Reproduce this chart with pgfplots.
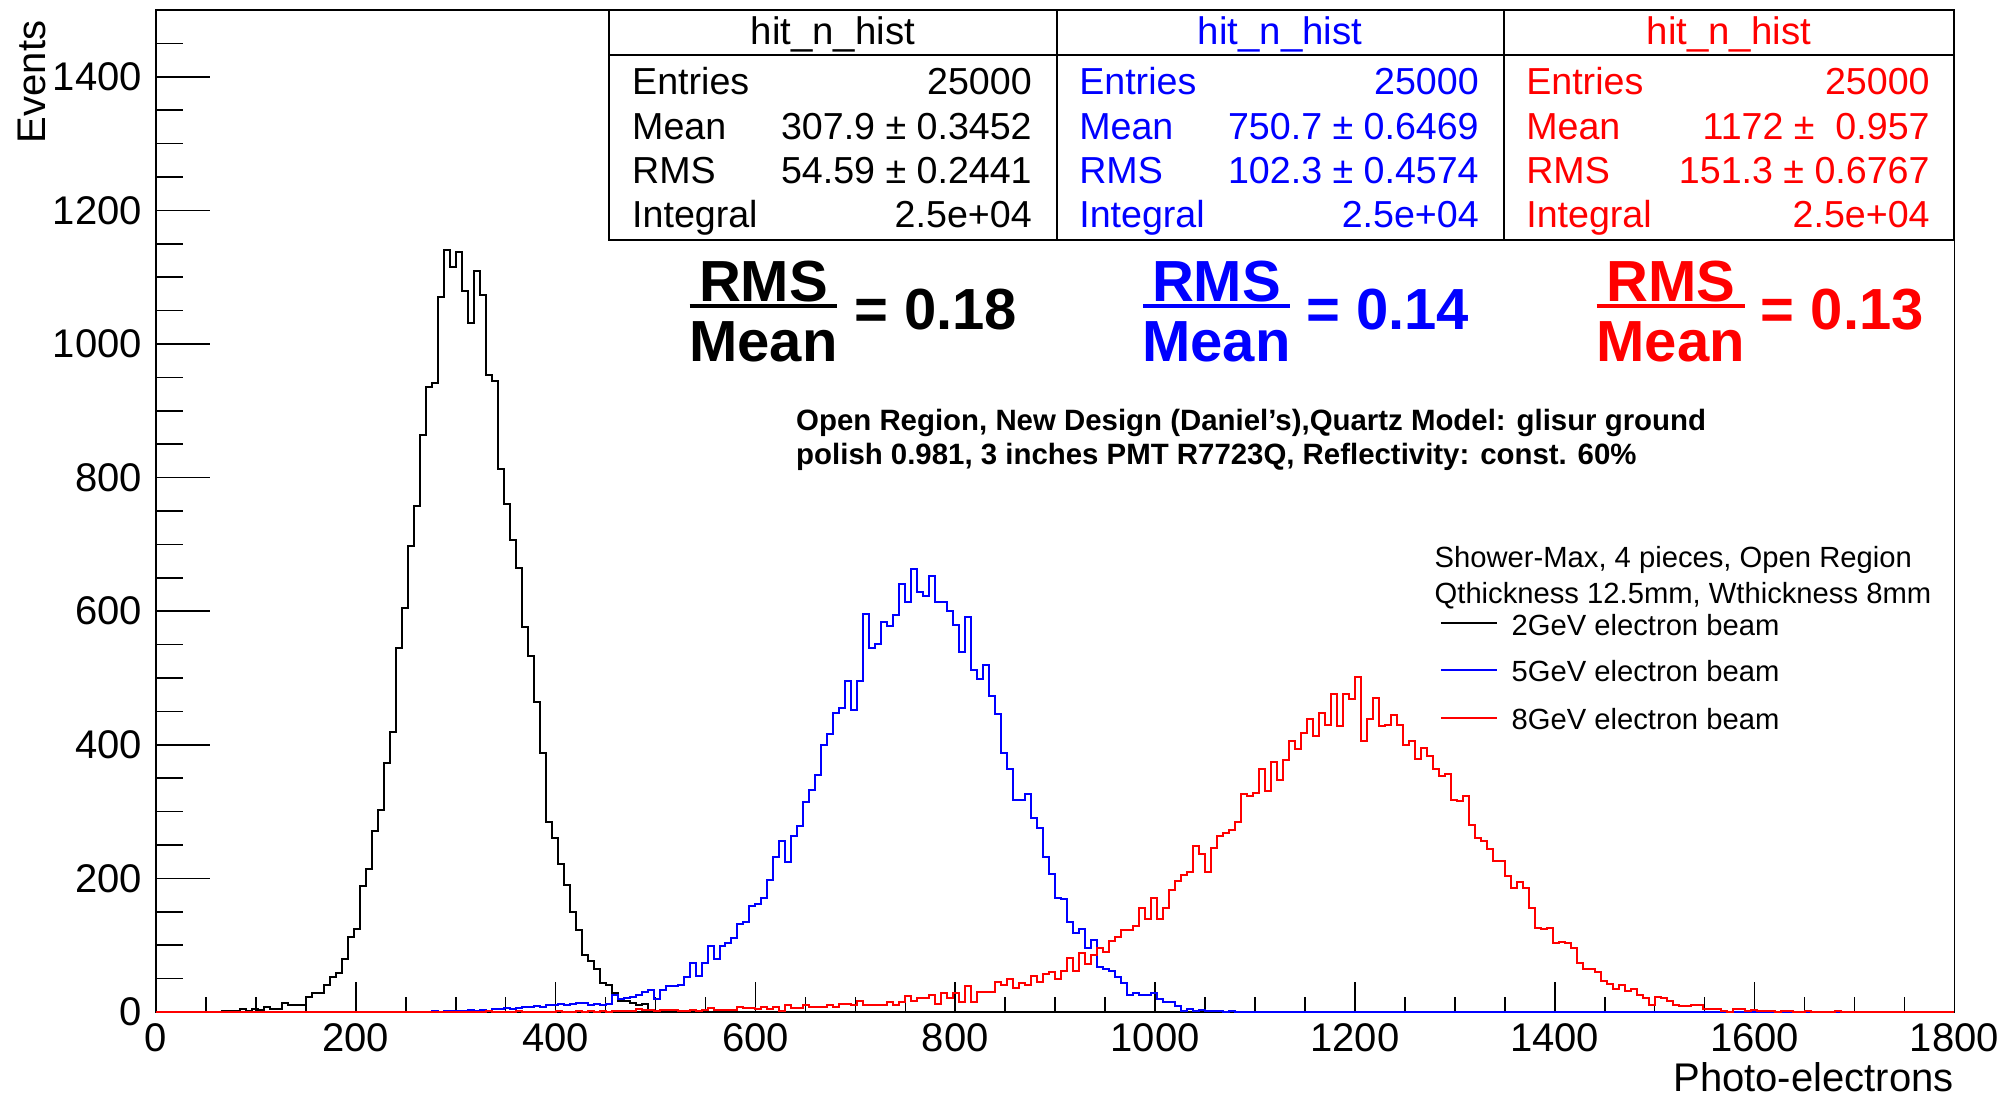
\documentclass[border=0pt]{standalone}
\usepackage{pgfplots}
\pgfplotsset{compat=1.18}
\usepackage{fontspec}
\setmainfont{Liberation Sans}
\setsansfont{Liberation Sans}
\definecolor{rblue}{RGB}{0,0,255}
\definecolor{rred}{RGB}{255,0,0}
\newcommand\fs[1]{\fontsize{#1}{#1}\selectfont}

% stats box: left, right, centre, colour, mean, rms
\newcommand\statbox[6]{%
  \draw[black, line width=0.5pt, fill=white] (axis cs:#1,1155.4) rectangle (axis cs:#2,1500);
  \draw[black, line width=0.5pt] (axis cs:#1,1432.6) -- (axis cs:#2,1432.6);
  \node[text=#4, anchor=base, inner sep=0pt, font=\fs{9.6}] at (axis cs:#3,1448) {hit\_n\_hist};
  \node[text=#4, anchor=base west, inner sep=0pt, font=\fs{9.4}, xshift=5.5pt] at (axis cs:#1,1373.5) {Entries};
  \node[text=#4, anchor=base west, inner sep=0pt, font=\fs{9.4}, xshift=5.5pt] at (axis cs:#1,1306) {Mean};
  \node[text=#4, anchor=base west, inner sep=0pt, font=\fs{9.4}, xshift=5.5pt] at (axis cs:#1,1240.5) {RMS};
  \node[text=#4, anchor=base west, inner sep=0pt, font=\fs{9.4}, xshift=5.5pt] at (axis cs:#1,1175) {Integral};
  \node[text=#4, anchor=base east, inner sep=0pt, font=\fs{9.4}, xshift=-6pt] at (axis cs:#2,1373.5) {25000};
  \node[text=#4, anchor=base east, inner sep=0pt, font=\fs{9.4}, xshift=-6pt] at (axis cs:#2,1306) {#5};
  \node[text=#4, anchor=base east, inner sep=0pt, font=\fs{9.4}, xshift=-6pt] at (axis cs:#2,1240.5) {#6};
  \node[text=#4, anchor=base east, inner sep=0pt, font=\fs{9.4}, xshift=-6pt] at (axis cs:#2,1175) {2.5e+04};
}
% RMS/Mean ratio: colour, centre, bar left, bar right, x of "=", value
\newcommand\ratio[6]{%
  \node[text=#1, anchor=base, inner sep=0pt, font=\bfseries\fs{14.5}] at (axis cs:#2,1063.6) {RMS};
  \draw[#1, line width=1pt] (axis cs:#3,1056.8) -- (axis cs:#4,1056.8);
  \node[text=#1, anchor=base, inner sep=0pt, font=\bfseries\fs{14.5}] at (axis cs:#2,973.8) {Mean};
  \node[text=#1, anchor=base west, inner sep=0pt, font=\bfseries\fs{14.5}] at (axis cs:#5,1021.6) {= #6};
}

\begin{document}
\begin{tikzpicture}
\pgfplotsset{
  rootframe/.style={
    scale only axis, width=449.6pt, height=250.5pt,
    xmin=0, xmax=1800, ymin=0, ymax=1500,
    at={(0,0)}, anchor=south west, clip=false,
    axis line style={line width=0.45pt},
    tick style={black, line width=0.4pt},
    /pgf/number format/assume math mode=true,
    /pgf/number format/1000 sep={},
    tick label style={font=\fs{10}},
    label style={font=\fs{10.2}},
  },
}
% x ticks (shorter than the y ticks)
\begin{axis}[rootframe,
  xtick={0,200,...,1800}, minor x tick num=3, xtick pos=left,
  ytick=\empty,
  major tick length=7.5pt, minor tick length=3.75pt,
  xticklabel style={anchor=base, yshift=-10pt},
  xlabel={Photo-electrons},
  every axis x label/.style={at={(axis description cs:1,0)}, anchor=base east, yshift=-19.8pt, inner sep=0pt},
]
\end{axis}

\begin{axis}[rootframe,
  xtick=\empty,
  ytick={0,200,...,1400}, minor ytick={50,100,...,1450}, ytick pos=left,
  major tick length=13.5pt, minor tick length=6.75pt,
  ylabel={Events},
  every axis y label/.style={at={(axis description cs:-0.069,0.99)}, rotate=90, anchor=east, inner sep=0pt},
]

% 2 GeV
\addplot[const plot mark left, black, line width=0.5pt] coordinates {
(0,0) (66,2) (72,2) (78,2) (84,5) (90,2) (96,5) (102,3) (108,8) (114,4) (120,4)
(126,14) (132,10) (138,10) (144,10) (150,23) (156,28) (162,28) (168,41) (174,53)
(180,58) (186,80) (192,112) (198,124) (204,188) (210,214) (216,271) (222,302)
(228,372) (234,419) (240,545) (246,605) (252,697) (258,758) (264,864) (270,935)
(276,941) (282,1070) (288,1140) (294,1115) (300,1138) (306,1080) (312,1031)
(318,1109) (324,1074) (330,954) (336,944) (342,813) (348,761) (354,706) (360,664)
(366,577) (372,533) (378,464) (384,388) (390,284) (396,261) (402,222) (408,190)
(414,149) (420,123) (426,85) (432,77) (438,65) (444,43) (450,40) (456,29)
(462,17) (468,17) (474,14) (480,10) (486,12) (492,3) (498,2) (504,3) (510,1)
(516,2) (522,0) (1800,0)
};

% 5 GeV
\addplot[const plot mark left, rblue, line width=0.5pt] coordinates {
(0,0) (276,1) (282,0) (288,2) (294,1) (300,2) (306,1) (312,3) (318,2) (324,3)
(330,2) (336,4) (342,5) (348,6) (354,5) (360,6) (366,8) (372,7) (378,9) (384,8)
(390,11) (396,10) (402,12) (408,11) (414,12) (420,14) (426,13) (432,10) (438,12)
(444,10) (450,12) (456,25) (462,20) (468,21) (474,22) (480,26) (486,30) (492,33)
(498,20) (504,33) (510,39) (516,39) (522,41) (528,53) (534,74) (540,54) (546,74)
(552,99) (558,79) (564,99) (570,103) (576,111) (582,132) (588,134) (594,158)
(600,162) (606,171) (612,198) (618,232) (624,256) (630,224) (636,264) (642,278)
(648,315) (654,333) (660,355) (666,400) (672,416) (678,448) (684,455) (690,496)
(696,452) (702,496) (708,596) (714,545) (720,551) (726,584) (732,578) (738,594)
(744,641) (750,614) (756,663) (762,628) (768,623) (774,652) (780,613) (786,613)
(792,600) (798,580) (804,539) (810,591) (816,512) (822,499) (828,519) (834,473)
(840,446) (846,387) (852,364) (858,318) (864,318) (870,326) (876,290) (882,276)
(888,232) (894,206) (900,171) (906,169) (912,135) (918,118) (924,124) (930,96)
(936,108) (942,68) (948,64) (954,61) (960,53) (966,44) (972,26) (978,29)
(984,26) (990,25) (996,28) (1002,20) (1008,15) (1014,15) (1020,9) (1026,2)
(1032,5) (1038,2) (1044,3) (1050,2) (1056,1) (1062,2) (1068,0) (1074,1) (1080,0)
(1800,0)
};

% 8 GeV
\addplot[const plot mark left, rred, line width=0.5pt] coordinates {
(0,0) (330,1) (336,0) (360,1) (366,0) (400,1) (406,0) (420,2) (426,0) (432,1)
(438,0) (444,1) (450,0) (456,2) (462,2) (468,2) (474,2) (480,4) (486,3) (492,3)
(498,2) (504,3) (510,3) (516,3) (522,1) (528,2) (534,3) (540,2) (546,3) (552,6)
(558,3) (564,3) (570,3) (576,3) (582,8) (588,6) (594,6) (600,5) (606,7) (612,5)
(618,8) (624,2) (630,10) (636,6) (642,6) (648,10) (654,7) (660,7) (666,7)
(672,10) (678,8) (684,12) (690,12) (696,11) (702,16) (708,11) (714,11) (720,11)
(726,11) (732,15) (738,11) (744,15) (750,24) (756,16) (762,21) (768,21) (774,26)
(780,12) (786,28) (792,21) (798,28) (804,15) (810,39) (816,15) (822,30) (828,30)
(834,30) (840,45) (846,40) (852,50) (858,36) (864,43) (870,41) (876,54) (882,45)
(888,57) (894,60) (900,49) (906,62) (912,81) (918,62) (924,89) (930,72) (936,85)
(942,96) (948,90) (954,106) (960,112) (966,122) (972,122) (978,129) (984,156)
(990,139) (996,170) (1002,139) (1008,156) (1014,182) (1020,196) (1026,205)
(1032,210) (1038,249) (1044,237) (1050,209) (1056,246) (1062,263) (1068,268)
(1074,273) (1080,284) (1086,326) (1092,324) (1098,328) (1104,363) (1110,331)
(1116,374) (1122,348) (1128,377) (1134,406) (1140,393) (1146,417) (1152,438)
(1158,413) (1164,448) (1170,430) (1176,476) (1182,428) (1188,476) (1194,469)
(1200,501) (1206,406) (1212,439) (1218,470) (1224,428) (1230,429) (1236,444)
(1242,429) (1248,399) (1254,405) (1260,378) (1266,395) (1272,383) (1278,364)
(1284,354) (1290,356) (1296,318) (1302,316) (1308,324) (1314,280) (1320,261)
(1326,256) (1332,244) (1338,226) (1344,226) (1350,204) (1356,185) (1362,195)
(1368,186) (1374,155) (1380,126) (1386,124) (1392,126) (1398,103) (1404,105)
(1410,103) (1416,96) (1422,74) (1428,65) (1434,65) (1440,60) (1446,47) (1452,42)
(1458,35) (1464,41) (1470,31) (1476,35) (1482,26) (1488,21) (1494,11) (1500,22)
(1506,21) (1512,16) (1518,11) (1524,9) (1530,9) (1536,11) (1542,11) (1548,5)
(1554,4) (1560,4) (1566,1) (1572,0) (1578,4) (1584,4) (1590,2) (1596,3) (1602,1)
(1608,2) (1614,1) (1620,0) (1626,1) (1632,2) (1638,0) (1650,1) (1656,0) (1680,1)
(1686,0) (1800,0)
};

\statbox{453.8}{901.3}{677.5}{black}{307.9 ± 0.3452}{54.59 ± 0.2441}
\statbox{901.3}{1348.7}{1125}{rblue}{750.7 ± 0.6469}{102.3 ± 0.4574}
\statbox{1348.7}{1800}{1574.3}{rred}{1172 ± \ 0.957}{151.3 ± 0.6767}

\ratio{black}{608}{534}{682}{698}{0.18}
\ratio{rblue}{1061.5}{988}{1135}{1150.5}{0.14}
\ratio{rred}{1516}{1442}{1590}{1605.6}{0.13}

\node[anchor=base west, inner sep=0pt, font=\bfseries\fs{7.35}] at (axis cs:640,870.5)
  {Open Region, New Design (Daniel's),Quartz Model: glisur ground};
\node[anchor=base west, inner sep=0pt, font=\bfseries\fs{7.35}] at (axis cs:640,819)
  {polish 0.981, 3 inches PMT R7723Q, Reflectivity: const. 60\%};

\node[anchor=base west, inner sep=0pt, font=\fs{7.3}] at (axis cs:1279,666) {Shower-Max, 4 pieces, Open Region};
\node[anchor=base west, inner sep=0pt, font=\fs{7.3}] at (axis cs:1279,612) {Qthickness 12.5mm, Wthickness 8mm};
\draw[black, line width=0.5pt] (axis cs:1286,581.7) -- (axis cs:1342,581.7);
\node[anchor=base west, inner sep=0pt, font=\fs{7.3}] at (axis cs:1356,564) {2GeV electron beam};
\draw[rblue, line width=0.5pt] (axis cs:1286,511.7) -- (axis cs:1342,511.7);
\node[anchor=base west, inner sep=0pt, font=\fs{7.3}] at (axis cs:1356,494) {5GeV electron beam};
\draw[rred, line width=0.5pt] (axis cs:1286,440) -- (axis cs:1342,440);
\node[anchor=base west, inner sep=0pt, font=\fs{7.3}] at (axis cs:1356,423) {8GeV electron beam};
\end{axis}

\pgfresetboundingbox
\path[use as bounding box] (-39pt,-21.5pt) rectangle (461.75pt,253pt);
\end{tikzpicture}
\end{document}
